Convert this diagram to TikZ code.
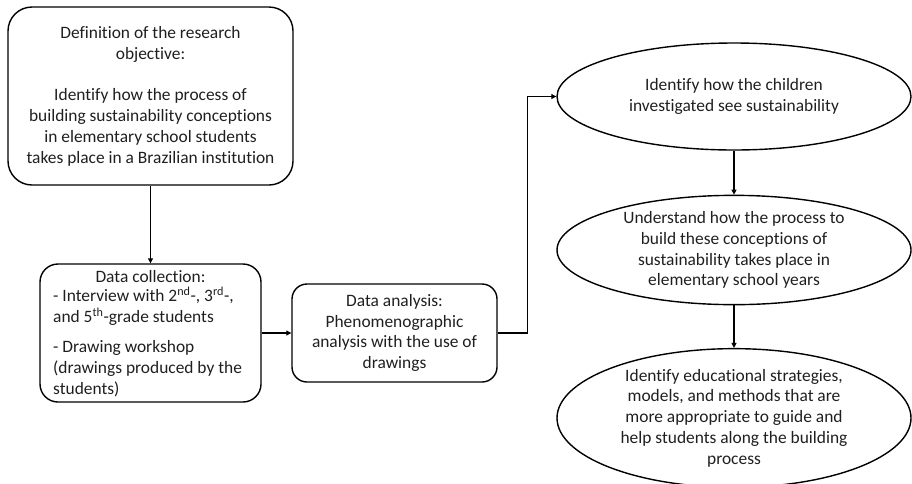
\documentclass[tikz,border=0pt]{standalone}
\usepackage{fontspec}
\setmainfont{Carlito}[Ligatures=NoCommon]
\usetikzlibrary{shapes.geometric,arrows.meta}
\begin{document}
\begin{tikzpicture}[x=1pt,y=-1pt,
  box/.style={draw,line width=1.4pt,inner sep=0pt},
  ell/.style={draw,ellipse,line width=1.4pt,inner sep=0pt},
  txt/.style={font=\fontsize{17.4}{20.8}\selectfont,align=center,inner sep=0pt,text=black!88},
  arr/.style={line width=1.1pt,-{Triangle[length=5pt,width=5pt]}}]
\useasboundingbox (0,0) rectangle (912,483);
\clip (0,0) rectangle (912,483);
% boxes
\node[box,rounded corners=24pt,minimum width=285pt,minimum height=178pt,txt] (def) at (150.5,96)
  {Definition of the research\\objective:\\[20.8pt]Identify how the process of\\building sustainability conceptions\\in elementary school students\\takes place in a Brazilian institution};
\node[box,rounded corners=18pt,minimum width=221pt,minimum height=138pt] (coll) at (150.5,333) {};
\node[txt] (colltitle) at (150.5,277) {Data collection:};
\node[txt,align=left,anchor=north west] (collbody) at (53,287)
  {- Interview with 2\textsuperscript{nd}-, 3\textsuperscript{rd}-,\\and 5\textsuperscript{th}-grade students\\[9pt]- Drawing workshop\\(drawings produced by the\\students)};
\node[box,rounded corners=15pt,minimum width=205pt,minimum height=98pt,txt] (ana) at (394.5,333)
  {Data analysis:\\Phenomenographic\\analysis with the use of\\drawings};
% ellipses
\node[ell,minimum width=354pt,minimum height=107pt,txt] (e1) at (734,96.5)
  {Identify how the children\\investigated see sustainability};
\node[ell,minimum width=354pt,minimum height=106pt,txt] (e2) at (734,250)
  {Understand how the process to\\build these conceptions of\\sustainability takes place in\\elementary school years};
\node[ell,minimum width=354pt,minimum height=134pt,inner ysep=-6pt,txt] (e3) at (734,418)
  {Identify educational strategies,\\models, and methods that are\\more appropriate to guide and\\help students along the building\\process};
% connectors
\draw[arr] (def.south) -- (coll.north);
\draw[arr] (coll.east) -- (ana.west);
\draw[arr] (ana.east) -- ++(30,0) |- (e1.west);
\draw[arr] (e1.south) -- (e2.north);
\draw[arr] (e2.south) -- (e3.north);
\end{tikzpicture}
\end{document}
